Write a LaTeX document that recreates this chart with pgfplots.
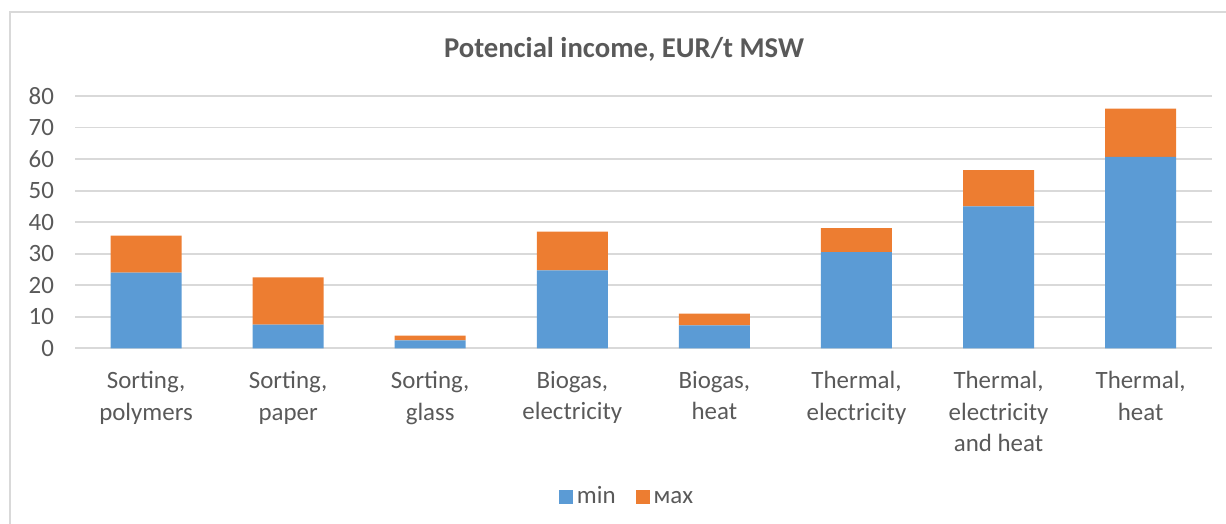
\documentclass[border=0pt]{standalone}
\usepackage{fontspec}
\setmainfont{Carlito}
\usepackage{pgfplots}
\pgfplotsset{compat=1.18}
\definecolor{minblue}{HTML}{5B9BD5}
\definecolor{maxorange}{HTML}{ED7D31}
\definecolor{txtgray}{HTML}{595959}
\definecolor{gridgray}{HTML}{D9D9D9}
\newcommand\lblfont{\fontsize{12.5}{15}\selectfont}
\newcommand\catfont{\fontsize{12.5}{15.8}\selectfont}

\begin{document}
\begin{tikzpicture}
\useasboundingbox (0,0) rectangle (613bp,262bp);
% chart area frame
\draw[gridgray, line width=1bp] (4.75bp,0) -- (4.75bp,255.75bp) -- (613bp,255.75bp);
\node[anchor=base, text=txtgray, font=\fontsize{14.4}{17}\selectfont\bfseries]
  at (312bp,233bp) {Potencial income, EUR/t MSW};
\begin{axis}[
  at={(37.5bp,87.85bp)}, anchor=south west,
  scale only axis, width=568.35bp, height=126.15bp,
  xmin=-0.5, xmax=7.5, ymin=0, ymax=80,
  ybar stacked, bar width=35.5bp,
  ytick={0,10,...,80}, xtick={0,...,7},
  xticklabels={{Sorting,\\polymers},{Sorting,\\paper},{Sorting,\\glass},
    {Biogas,\\electricity},{Biogas,\\heat},{Thermal,\\electricity},
    {Thermal,\\electricity\\and heat},{Thermal,\\heat}},
  ymajorgrids, grid style={gridgray, line width=0.9bp},
  axis line style={draw=none}, major tick length=0, tick style={draw=none},
  /pgf/number format/assume math mode=true,
  ticklabel style={font=\lblfont, text=txtgray},
  yticklabel style={xshift=-7bp},
  xticklabel style={font=\catfont, align=center, anchor=north, yshift=-8bp},
  legend style={at={(0.4865,-0.59)}, anchor=center, draw=none, fill=none,
    legend columns=2, font=\lblfont, text=txtgray,
    nodes={text height=1.55ex, text depth=0.25ex},
    /tikz/every even column/.append style={column sep=8bp}},
  legend image code/.code={\fill[#1,draw=none] (0bp,-3.5bp) rectangle (7bp,3.5bp);},
]
\addplot[fill=minblue, draw=none] coordinates
  {(0,24) (1,7.5) (2,2.5) (3,24.7) (4,7.3) (5,30.5) (6,45) (7,60.7)};
\addplot[fill=maxorange, draw=none] coordinates
  {(0,11.7) (1,15) (2,1.5) (3,12.3) (4,3.7) (5,7.6) (6,11.5) (7,15.3)};
\legend{min, мах}
\end{axis}
\end{tikzpicture}
\end{document}
